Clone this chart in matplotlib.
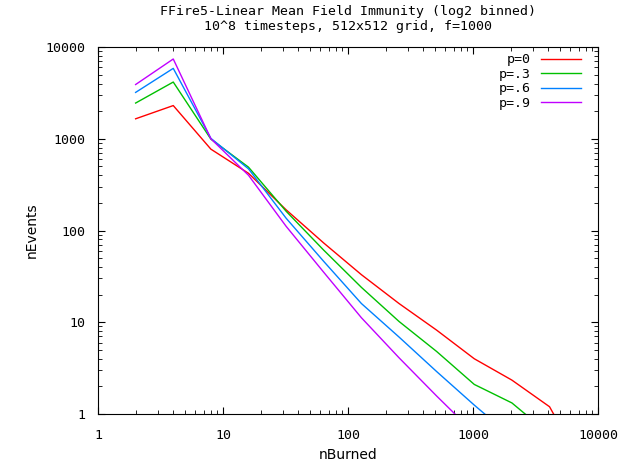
import numpy as np
import matplotlib
matplotlib.use("Agg")
import matplotlib.pyplot as plt
from matplotlib.ticker import LogLocator, NullFormatter, FixedLocator

# log2 bins of fire size
n_burned = [2, 4, 8, 16, 32, 64, 128, 256, 512, 1024, 2048, 4096, 8192]

# events per bin, one list per immunity p (values below 1 get clipped by the axis)
events_p0 = [1650, 2300, 770, 420, 168, 73, 33, 16, 8.2, 4.0, 2.34, 1.2, 0.22]
events_p3 = [2450, 4150, 990, 490, 162, 61, 24, 10.2, 4.8, 2.1, 1.32, 0.6]
events_p6 = [3200, 5850, 1010, 470, 136, 46, 16, 6.9, 2.9, 1.25, 0.56]
events_p9 = [3900, 7400, 1000, 400, 111, 35, 11.2, 4.1, 1.57, 0.62]

labels = ["p=0", "p=.3", "p=.6", "p=.9"]
colors = ["#ff0000", "#00c000", "#0080ff", "#c000ff"]

fig = plt.figure(figsize=(6.31, 4.61), dpi=100)
ax = fig.add_axes([98 / 631, 1 - 414 / 461, 500 / 631, 367 / 461])

for ys, lab, col in zip([events_p0, events_p3, events_p6, events_p9], labels, colors):
    ax.plot(n_burned[:len(ys)], ys, color=col, lw=1.0, label=lab)

ax.set_xscale("log")
ax.set_yscale("log")
ax.set_xlim(1, 10000)
ax.set_ylim(1, 10000)

mono = "DejaVu Sans Mono"
ax.xaxis.set_major_locator(FixedLocator([1, 10, 100, 1000, 10000]))
ax.yaxis.set_major_locator(FixedLocator([1, 10, 100, 1000, 10000]))
ax.set_xticklabels(["1", "10", "100", "1000", "10000"], family=mono, fontsize=9.5)
ax.set_yticklabels(["1", "10", "100", "1000", "10000"], family=mono, fontsize=9.5)
for a in (ax.xaxis, ax.yaxis):
    a.set_minor_locator(LogLocator(base=10, subs=np.arange(2, 10), numticks=20))
    a.set_minor_formatter(NullFormatter())
ax.tick_params(which="both", direction="in", top=True, right=True, color="black")
ax.tick_params(which="major", length=5, width=0.8)
ax.tick_params(axis="x", which="major", pad=11)
ax.tick_params(axis="y", which="major", pad=9)
ax.tick_params(which="minor", length=3, width=0.6)
for s in ax.spines.values():
    s.set_linewidth(0.8)

ax.set_xlabel("nBurned", fontsize=10, labelpad=4)
ax.set_ylabel("nEvents", fontsize=10, labelpad=5)
ax.set_title("FFire5-Linear Mean Field Immunity (log2 binned)\n"
             "10^8 timesteps, 512x512 grid, f=1000",
             family=mono, fontsize=9.5, pad=12, linespacing=1.2)

# legend: text right-aligned, sample line to the right (gnuplot key style)
ax.legend(loc="upper right", bbox_to_anchor=(590 / 631, 1 - 44 / 461),
          bbox_transform=fig.transFigure, frameon=False, markerfirst=False,
          prop={"family": mono, "size": 9.5}, handlelength=3.0,
          labelspacing=0.12, borderaxespad=0.3, handletextpad=0.8)

fig.savefig("out.png", dpi=100)
